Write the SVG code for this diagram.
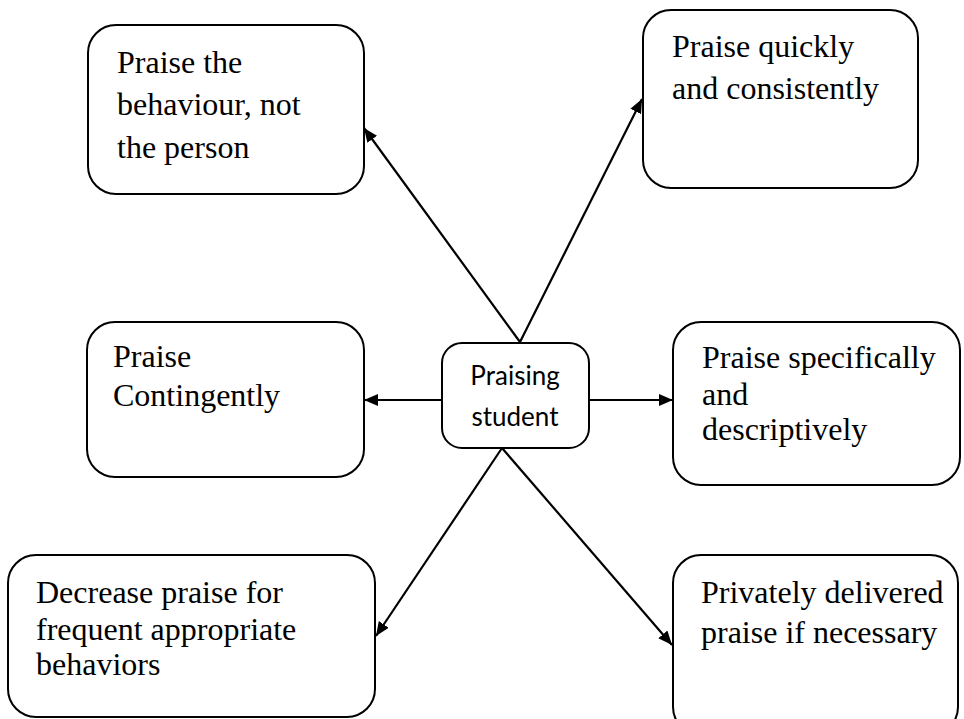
<svg xmlns="http://www.w3.org/2000/svg" width="964" height="719" viewBox="0 0 964 719">
<defs>
<marker id="ah" viewBox="0 0 14 12" refX="14" refY="6" markerWidth="14" markerHeight="12" markerUnits="userSpaceOnUse" orient="auto">
<path d="M0,0 L14,6 L0,12 Z" fill="#000"/>
</marker>
<style>
.box{fill:#fff;stroke:#000;stroke-width:2}
.t{font-family:"Liberation Serif","Times New Roman",serif;font-size:32px;fill:#000}
.c{font-family:Lato,"Noto Sans",sans-serif;font-size:26px;fill:#000;text-anchor:middle}
.ln{stroke:#000;stroke-width:2.2;fill:none;marker-end:url(#ah)}
</style>
</defs>
<rect width="964" height="719" fill="#fff"/>
<g id="connectors">
<line class="ln" x1="520" y1="342" x2="364" y2="128"/>
<line class="ln" x1="520" y1="342" x2="642" y2="99"/>
<line class="ln" x1="442" y1="400" x2="364" y2="400"/>
<line class="ln" x1="589" y1="400" x2="673" y2="400"/>
<line class="ln" x1="502" y1="448" x2="376" y2="636"/>
<line class="ln" x1="502" y1="448" x2="672" y2="645"/>
</g>
<g id="n-behaviour">
<rect class="box" x="88" y="25" width="276" height="169" rx="28"/>
<text class="t" x="117" y="73">Praise the</text>
<text class="t" x="117" y="115">behaviour, not</text>
<text class="t" x="117" y="158">the person</text>
</g>
<g id="n-quickly">
<rect class="box" x="643" y="10" width="275" height="178" rx="28"/>
<text class="t" x="672" y="57">Praise quickly</text>
<text class="t" x="672" y="99">and consistently</text>
</g>
<g id="n-center">
<rect class="box" x="442" y="343" width="147" height="105" rx="20"/>
<text class="c" x="515" y="385">Praising</text>
<text class="c" x="515" y="426">student</text>
</g>
<g id="n-contingently">
<rect class="box" x="87" y="322" width="277" height="155" rx="28"/>
<text class="t" x="113" y="367">Praise</text>
<text class="t" x="113" y="406">Contingently</text>
</g>
<g id="n-specifically">
<rect class="box" x="673" y="322" width="287" height="163" rx="28"/>
<text class="t" x="702" y="368">Praise specifically</text>
<text class="t" x="702" y="405">and</text>
<text class="t" x="702" y="440">descriptively</text>
</g>
<g id="n-decrease">
<rect class="box" x="8" y="555" width="367" height="162" rx="28"/>
<text class="t" x="36" y="603">Decrease praise for</text>
<text class="t" x="36" y="640">frequent appropriate</text>
<text class="t" x="36" y="675">behaviors</text>
</g>
<g id="n-privately">
<rect class="box" x="673" y="555" width="285" height="180" rx="28"/>
<text class="t" x="701" y="603">Privately delivered</text>
<text class="t" x="701" y="643">praise if necessary</text>
</g>
</svg>
